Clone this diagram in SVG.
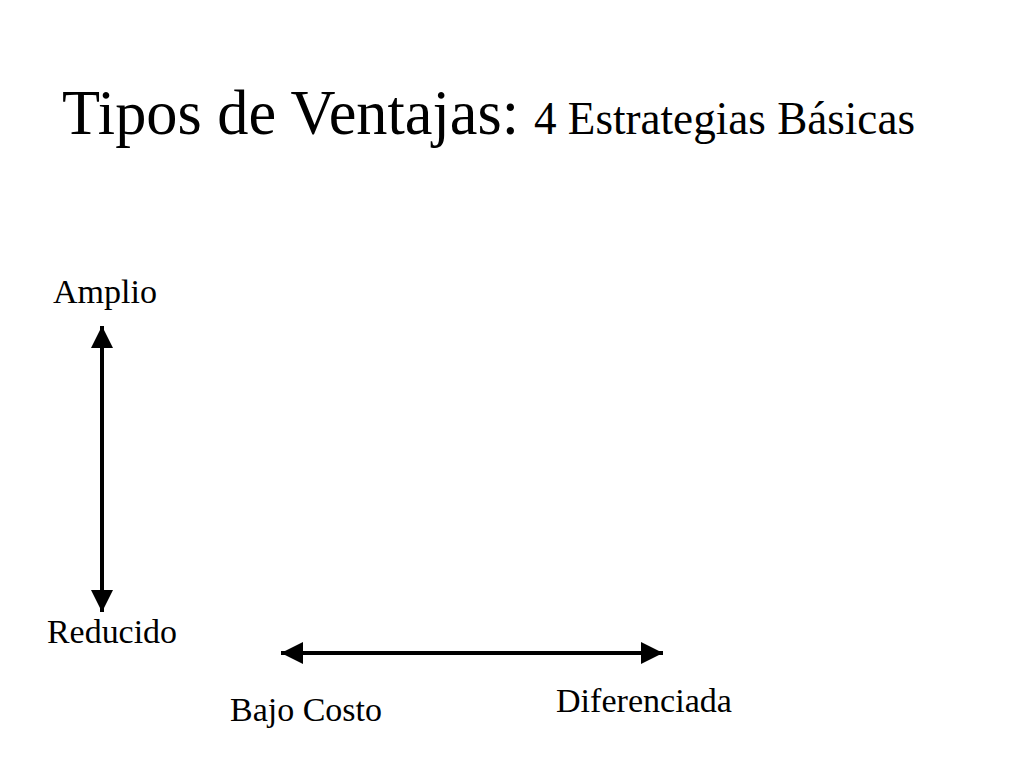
<svg xmlns="http://www.w3.org/2000/svg" width="1024" height="768" viewBox="0 0 1024 768">
<defs>
<style>
text{font-family:"Liberation Serif","Times New Roman",serif;fill:#000}
.lbl{font-size:33px}
.ax{stroke:#000;stroke-width:4;fill:none}
</style>
<marker id="ah" viewBox="0 0 10 10" refX="10" refY="5" markerWidth="5.5" markerHeight="5.5" markerUnits="strokeWidth" orient="auto-start-reverse">
<path d="M0,0 L10,5 L0,10 Z" fill="#000"/>
</marker>
</defs>
<rect width="1024" height="768" fill="#fff"/>
<g id="title">
<text x="62" y="134" font-size="63" textLength="457" lengthAdjust="spacingAndGlyphs">Tipos de Ventajas:</text>
<text x="534" y="134" font-size="46" textLength="381" lengthAdjust="spacingAndGlyphs">4 Estrategias Básicas</text>
</g>
<g id="connectors">
<line class="ax" x1="102" y1="326" x2="102" y2="612" marker-start="url(#ah)" marker-end="url(#ah)"/>
<line class="ax" x1="281" y1="653" x2="663" y2="653" marker-start="url(#ah)" marker-end="url(#ah)"/>
</g>
<g id="amplio"><text class="lbl" x="53" y="303" textLength="104" lengthAdjust="spacingAndGlyphs">Amplio</text></g>
<g id="reducido"><text class="lbl" x="47" y="643" textLength="130" lengthAdjust="spacingAndGlyphs">Reducido</text></g>
<g id="bajo-costo"><text class="lbl" x="230" y="721" textLength="152" lengthAdjust="spacingAndGlyphs">Bajo Costo</text></g>
<g id="diferenciada"><text class="lbl" x="556" y="712" textLength="176" lengthAdjust="spacingAndGlyphs">Diferenciada</text></g>
</svg>
